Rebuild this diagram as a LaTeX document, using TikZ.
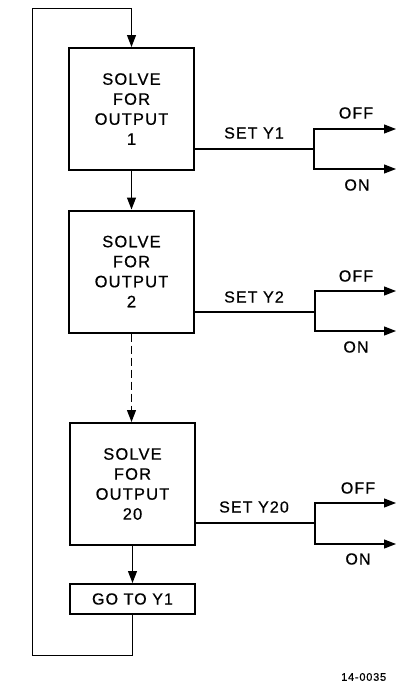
\documentclass[tikz,border=0pt]{standalone}
\usepackage{fontspec}
\setmainfont{Liberation Sans}[LetterSpace=7,FakeBold=0.6]
\usetikzlibrary{arrows.meta}
\begin{document}
\begin{tikzpicture}[x=1pt,y=-1pt,
  box/.style={draw, line width=2pt, minimum width=125pt, minimum height=122pt, align=center,
    font=\fontsize{16.5}{20}\selectfont, inner sep=0pt},
  gobox/.style={draw, line width=2pt, minimum width=125pt, minimum height=30pt,
    font=\fontsize{16}{20}\selectfont, inner sep=0pt},
  wire/.style={line width=1.2pt},
  arr/.style={line width=1.2pt, -{Triangle[length=12pt,width=9pt]}},
  lbl/.style={font=\fontsize{16}{18}\selectfont, inner sep=0pt}]
\useasboundingbox (0,0) rectangle (396,683);
\clip (0,0) rectangle (396,683);

\node[box] (b1) at (131.5,109) {SOLVE\\FOR\\OUTPUT\\1};
\node[box] (b2) at (131.5,271.5) {SOLVE\\FOR\\OUTPUT\\2};
\node[box] (b3) at (132.5,484) {SOLVE\\FOR\\OUTPUT\\20};
\node[gobox] (go) at (132.5,599) {GO TO Y1};

\draw[arr] (b1.south) -- (b2.north);
\draw[arr, dash pattern=on 8pt off 4pt] (b2.south) -- (b2.south |- b3.north);
\draw[arr] (b3.south) -- (go.north);

% loop back
\coordinate (lb) at (32,655);
\coordinate (lt) at (32,8);
\draw[arr, line width=1pt] (go.south) |- (lb) -- (lt) -| (b1.north);

% branch 1
\coordinate (j1) at (314,149);
\coordinate (o1) at (396,129);
\coordinate (n1) at (396,169);
\draw[wire] (b1.east |- j1) -- (j1);
\draw[arr] (j1) |- (o1);
\draw[arr] (j1) |- (n1);
\node[lbl] (s1) at (254,133) {SET Y1};
\node[lbl] (f1) at (356,113) {OFF};
\node[lbl] (on1) at (357,185) {ON};

% branch 2
\coordinate (j2) at (315,312);
\coordinate (o2) at (396,291);
\coordinate (n2) at (396,331);
\draw[wire] (b2.east |- j2) -- (j2);
\draw[arr] (j2) |- (o2);
\draw[arr] (j2) |- (n2);
\node[lbl] (s2) at (254,297) {SET Y2};
\node[lbl] (f2) at (356,276) {OFF};
\node[lbl] (on2) at (356,347) {ON};

% branch 20
\coordinate (j3) at (315,523);
\coordinate (o3) at (396,503);
\coordinate (n3) at (396,544);
\draw[wire] (b3.east |- j3) -- (j3);
\draw[arr] (j3) |- (o3);
\draw[arr] (j3) |- (n3);
\node[lbl] (s3) at (254,507) {SET Y20};
\node[lbl] (f3) at (358,488) {OFF};
\node[lbl] (on3) at (358,559) {ON};

\node[anchor=west, font=\fontsize{11}{12}\selectfont, inner sep=0pt] (fig) at (341,677) {14-0035};
\end{tikzpicture}
\end{document}
